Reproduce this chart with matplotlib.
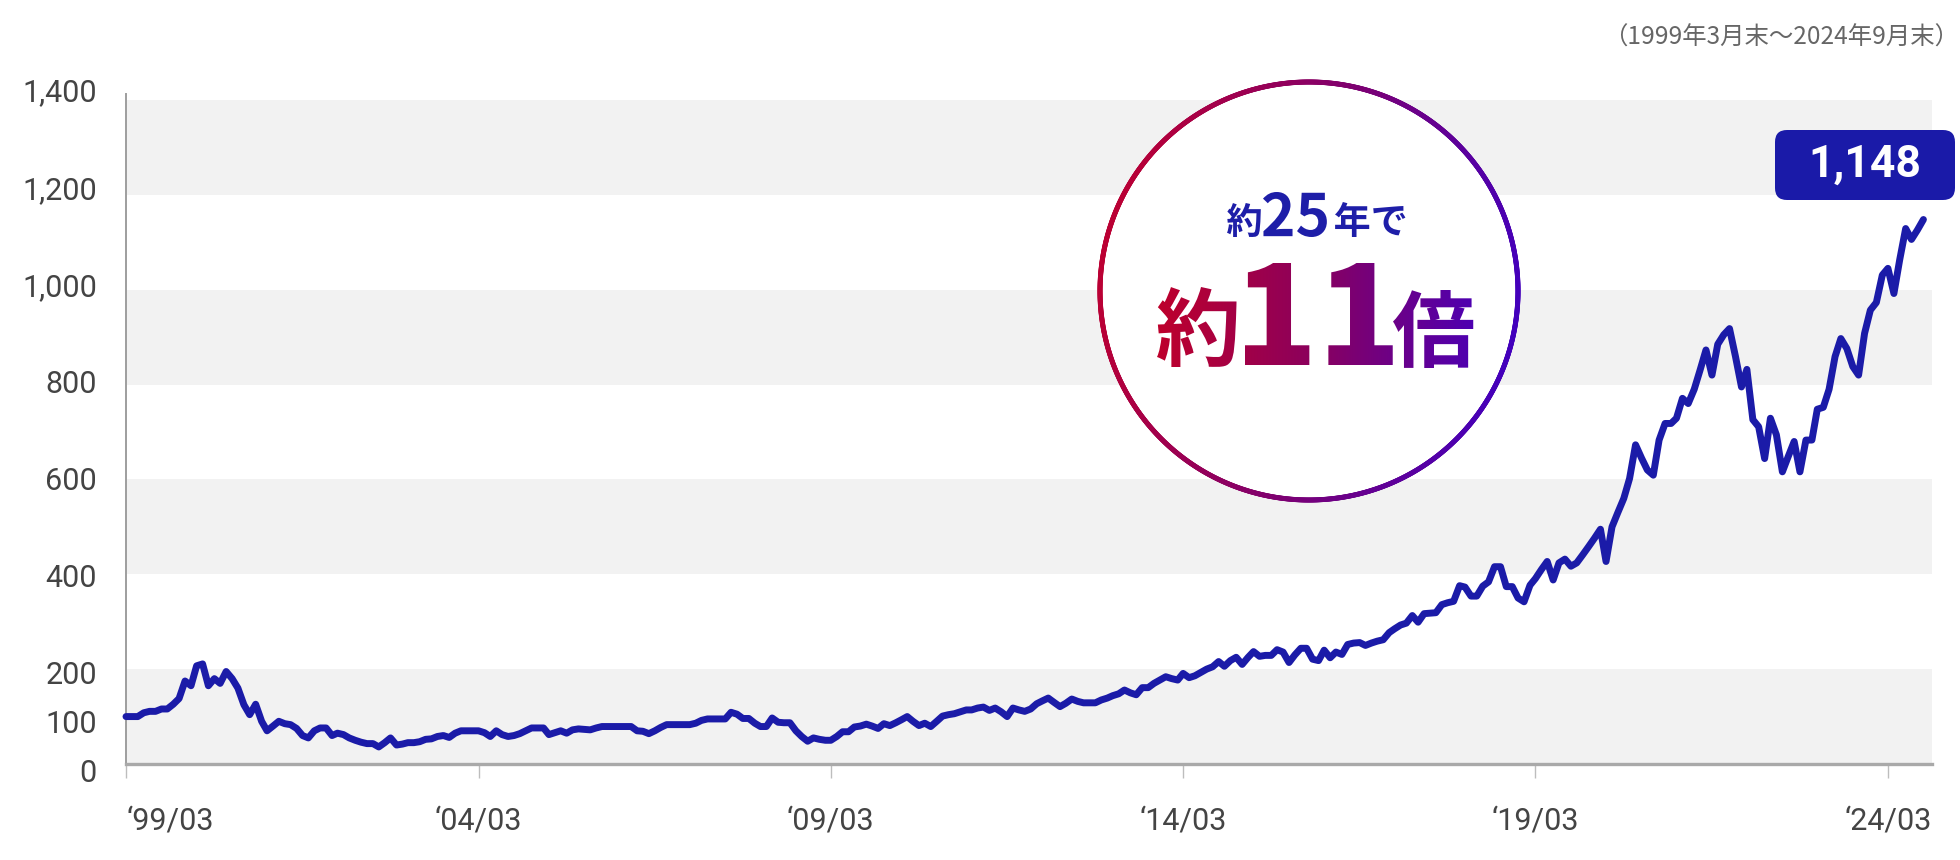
import numpy as np
import pandas as pd
import matplotlib
matplotlib.use('Agg')
import matplotlib.pyplot as plt
import matplotlib.dates as mdates
from matplotlib.textpath import TextPath
from matplotlib.font_manager import FontProperties
from matplotlib.patches import PathPatch, FancyBboxPatch, Circle
from matplotlib.collections import LineCollection
from matplotlib.colors import LinearSegmentedColormap
from matplotlib.path import Path
import matplotlib.transforms as mtransforms

plt.rcParams['font.family'] = ['Roboto', 'Noto Sans CJK JP', 'DejaVu Sans']

# ---------------- data (monthly index, 1999/03 = 100) ----------------
start_month = '1999-03'
v1999 = [100, 100, 100, 108, 111, 111, 116, 116, 126, 138]
v2000 = [175, 165, 207, 211, 165, 180, 170, 195, 180, 160, 125, 104]
v2001 = [126, 90, 70, 80, 90, 85, 83, 75, 60, 55, 70, 76]
v2002 = [76, 60, 65, 62, 55, 50, 46, 43, 43, 36, 45, 55]
v2003 = [40, 42, 45, 45, 47, 52, 53, 58, 60, 56, 65, 70]
v2004 = [70, 70, 70, 66, 58, 70, 62, 58, 60, 64, 70, 76]
v2005 = [76, 76, 62, 66, 70, 65, 72, 74, 73, 72, 76, 79]
v2006 = [79, 79, 79, 79, 79, 70, 69, 64, 70, 77, 83, 83]
v2007 = [83, 83, 83, 86, 92, 95, 95, 95, 95, 109, 105, 96]
v2008 = [96, 86, 79, 79, 97, 88, 87, 87, 70, 58, 48, 55]
v2009 = [52, 50, 50, 58, 68, 68, 78, 80, 84, 80, 75, 85]
v2010 = [81, 87, 93, 100, 90, 81, 86, 79, 90, 101, 104, 106]
v2011 = [110, 114, 114, 118, 120, 113, 118, 110, 100, 118, 114, 111]
v2012 = [116, 127, 133, 139, 130, 121, 128, 137, 132, 129, 129, 129]
v2013 = [135, 139, 144, 148, 156, 150, 146, 161, 161, 170, 177, 184]
v2014 = [180, 177, 191, 182, 186, 193, 200, 205, 216, 206, 218, 225]
v2015 = [210, 225, 237, 227, 229, 229, 241, 236, 214, 230, 244, 244]
v2016 = [221, 218, 240, 224, 236, 231, 252, 255, 256, 250, 255, 259]
v2017 = [262, 277, 285, 293, 297, 313, 299, 317, 318, 319, 336, 340]
v2018 = [343, 376, 373, 354, 354, 375, 384, 416, 416, 374, 374, 350]
v2019 = [342, 377, 391, 410, 427, 388, 424, 432, 417, 424, 441, 458]
v2020 = [476, 495, 427, 500, 530, 560, 602, 673, 645, 620, 609, 683]
v2021 = [718, 718, 729, 771, 760, 790, 830, 873, 820, 885, 905, 918]
v2022 = [859, 795, 832, 726, 711, 644, 729, 694, 616, 648, 680, 616]
v2023 = [683, 683, 748, 752, 790, 859, 897, 876, 838, 820, 908, 957]
v2024 = [973, 1031, 1045, 992, 1063, 1129, 1106, 1126, 1148]

index_values = (v1999 + v2000 + v2001 + v2002 + v2003 + v2004 + v2005 + v2006 +
                v2007 + v2008 + v2009 + v2010 + v2011 + v2012 + v2013 + v2014 +
                v2015 + v2016 + v2017 + v2018 + v2019 + v2020 + v2021 + v2022 +
                v2023 + v2024)

tick_months = ['1999-03', '2004-03', '2009-03', '2014-03', '2019-03', '2024-03']
tick_labels = ['\u201899/03', '\u201804/03', '\u201809/03', '\u201814/03', '\u201819/03', '\u201824/03']
y_ticks = [0, 100, 200, 400, 600, 800, 1000, 1200, 1400]
y_labels = ['0', '100', '200', '400', '600', '800', '1,000', '1,200', '1,400']
band_starts = [0, 400, 800, 1200]
band_height = 200
period_note = '（1999年3月末～2024年9月末）'
final_label = '1,148'
headline_small = ['約', '25', '年で']
headline_big = ['約', '11', '倍']

# ---------------- figure ----------------
W, H = 1960, 860
fig = plt.figure(figsize=(W / 100, H / 100), dpi=100)
fig.patch.set_facecolor('white')

ax = fig.add_axes([126 / W, (H - 764) / H, (1932 - 126) / W, (764 - 100) / H])
dates = pd.period_range(start_month, periods=len(index_values), freq='M').to_timestamp()
x0 = mdates.date2num(dates[0])
five_years = mdates.date2num(pd.Timestamp('2004-03-01')) - x0
x1 = x0 + five_years * (1932 - 126) / 352.5
ax.set_xlim(x0, x1)
ax.set_ylim(0, 1400)

for lo in band_starts:
    ax.axhspan(lo, lo + band_height, color='#f2f2f2', lw=0, zorder=0)

line_color = '#1b1ba8'
ax.plot(dates, index_values, color=line_color, lw=5.0, solid_joinstyle='round',
        solid_capstyle='round', zorder=3, clip_on=False)

for s in ['top', 'right']:
    ax.spines[s].set_visible(False)
ax.spines['left'].set_color('#9e9e9e')
ax.spines['left'].set_linewidth(1.4)
ax.spines['left'].set_bounds(0, 1412)
ax.spines['bottom'].set_color('#a9a9a9')
ax.spines['bottom'].set_linewidth(2.4)

ax.set_xticks([mdates.date2num(pd.Timestamp(t + '-01')) for t in tick_months])
ax.set_xticklabels(tick_labels)
ax.tick_params(axis='x', direction='out', length=10, width=1.0, color='#bdbdbd',
               pad=20.5, labelsize=22, labelcolor='#444444')
ax.get_xticklabels()[0].set_horizontalalignment('left')
ax.set_yticks(y_ticks)
ax.set_yticklabels(y_labels)
ax.tick_params(axis='y', length=0, pad=21, labelsize=22, labelcolor='#444444')
# the value labels sit on a slightly wider spread than the gridlines
for v, lab in zip(y_ticks, ax.get_yticklabels()):
    shift_px = 6 - 16 * v / 1400
    lab.set_transform(lab.get_transform() +
                      mtransforms.ScaledTranslation(0, -shift_px / 100, fig.dpi_scale_trans))

fig.text(1959 / W, 1 - 38 / H, period_note, ha='right', va='center', fontsize=17.6,
         color='#666666', family=['Noto Sans CJK JP', 'DejaVu Sans'])

# ---------------- overlay (pixel coordinates, y up) ----------------
ov = fig.add_axes([0, 0, 1, 1])
ov.set_zorder(5)
ov.patch.set_alpha(0)
ov.axis('off')

red_c, blue_c = '#c4002a', '#3a00c8'
cmap = LinearSegmentedColormap.from_list('grad', [red_c, '#80006e', blue_c])

cx, cy, r = 1309, H - 291, 209
ov.add_patch(Circle((cx, cy), r, fc='white', ec='none', zorder=1))
th = np.linspace(0, 2 * np.pi, 1441)
px = cx + r * np.cos(th)
py = cy + r * np.sin(th)
segs = np.stack([np.column_stack([px[:-1], py[:-1]]), np.column_stack([px[1:], py[1:]])], axis=1)
mx = (px[:-1] + px[1:]) / 2
my = (py[:-1] + py[1:]) / 2
frac = ((mx - (cx - r)) / (2 * r)) * 0.85 + ((cy + r - my) / (2 * r)) * 0.15
lc = LineCollection(segs, colors=cmap(np.clip(frac, 0, 1)), linewidths=3.6, capstyle='round', zorder=2)
ov.add_collection(lc)


def text_path(s, prop, left, top, bottom):
    tp = TextPath((0, 0), s, size=100, prop=prop)
    ext = tp.get_extents()
    sc = (bottom - top) / ext.height
    tr = mtransforms.Affine2D().translate(-ext.x0, -ext.y0).scale(sc).translate(left, H - bottom)
    return tr.transform_path(tp)


fp_b = FontProperties(family='Noto Sans CJK JP', weight='bold')
fp_k = FontProperties(family='Noto Sans CJK JP', weight='black')

small_boxes = [(1227, 203, 237), (1263, 192, 237), (1335, 202, 237)]
for s, (l, t, b) in zip(headline_small, small_boxes):
    p = text_path(s, fp_b, l, t, b)
    ov.add_patch(PathPatch(p, fc='#1e1ea8', ec='none', zorder=3))

big_boxes = [(1157, 287, 367), (1245, 263, 365), (1393, 290, 368)]
paths = []
for s, (l, t, b) in zip(headline_big, big_boxes):
    fp = fp_k if s == '11' else fp_b
    paths.append(text_path(s, fp, l, t, b))
comp = Path.make_compound_path(*paths)
clip_patch = PathPatch(comp, fc='none', ec='none', transform=ov.transData)
ov.add_patch(clip_patch)
grad = np.linspace(0, 1, 256).reshape(1, -1)
tcmap = LinearSegmentedColormap.from_list('tgrad', ['#c0002a', '#8a005e', '#4c00b4'])
im = ov.imshow(grad, extent=[1150, 1480, H - 372, H - 258], cmap=tcmap, aspect='auto',
               zorder=3, interpolation='bilinear')
im.set_clip_path(clip_patch)

ov.add_patch(FancyBboxPatch((1775, H - 200), 180, 70,
                            boxstyle='round,pad=0,rounding_size=12',
                            fc='#1a1aa8', ec='none', zorder=3))
ov.text(1865, H - 165, final_label, color='white', fontsize=32, fontweight='bold',
        ha='center', va='center', family='Roboto', zorder=4)

ov.set_xlim(0, W)
ov.set_ylim(0, H)

fig.savefig('out.png', dpi=100, facecolor='white')
